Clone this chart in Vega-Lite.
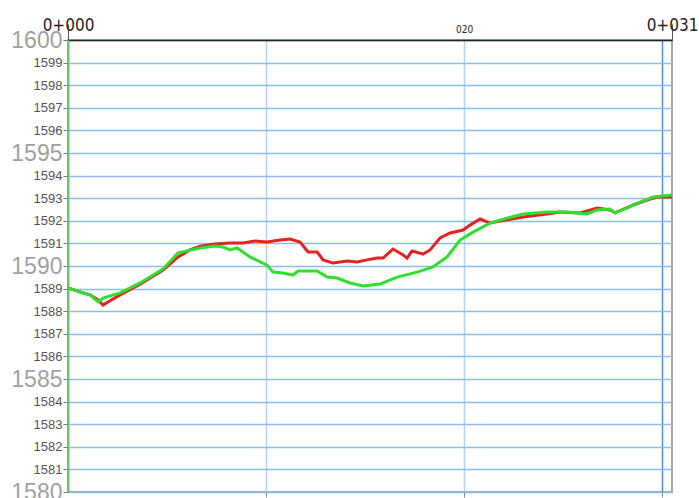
{
  "$schema": "https://vega.github.io/schema/vega-lite/v6.json",
  "width": 604,
  "height": 452,
  "autosize": {"type": "none"},
  "padding": {"left": 68, "top": 40, "right": 27, "bottom": 6},
  "background": "white",
  "config": {"view": {"stroke": "#8a8a8a", "strokeWidth": 1.5}},
  "data": {"values": [
    {"s": "red", "x": 0, "y": 1589.03},
    {"s": "red", "x": 0.61, "y": 1588.85},
    {"s": "red", "x": 1.11, "y": 1588.72},
    {"s": "red", "x": 1.52, "y": 1588.5},
    {"s": "red", "x": 1.77, "y": 1588.27},
    {"s": "red", "x": 2.02, "y": 1588.41},
    {"s": "red", "x": 2.63, "y": 1588.72},
    {"s": "red", "x": 3.64, "y": 1589.2},
    {"s": "red", "x": 4.8, "y": 1589.82},
    {"s": "red", "x": 5.56, "y": 1590.4},
    {"s": "red", "x": 6.16, "y": 1590.71},
    {"s": "red", "x": 6.67, "y": 1590.88},
    {"s": "red", "x": 7.42, "y": 1590.97},
    {"s": "red", "x": 8.18, "y": 1591.02},
    {"s": "red", "x": 8.84, "y": 1591.02},
    {"s": "red", "x": 9.44, "y": 1591.11},
    {"s": "red", "x": 10.05, "y": 1591.06},
    {"s": "red", "x": 10.71, "y": 1591.15},
    {"s": "red", "x": 11.21, "y": 1591.19},
    {"s": "red", "x": 11.72, "y": 1591.06},
    {"s": "red", "x": 12.12, "y": 1590.62},
    {"s": "red", "x": 12.58, "y": 1590.62},
    {"s": "red", "x": 12.88, "y": 1590.27},
    {"s": "red", "x": 13.38, "y": 1590.13},
    {"s": "red", "x": 14.09, "y": 1590.22},
    {"s": "red", "x": 14.6, "y": 1590.18},
    {"s": "red", "x": 15.1, "y": 1590.27},
    {"s": "red", "x": 15.61, "y": 1590.35},
    {"s": "red", "x": 15.91, "y": 1590.35},
    {"s": "red", "x": 16.41, "y": 1590.75},
    {"s": "red", "x": 16.92, "y": 1590.49},
    {"s": "red", "x": 17.12, "y": 1590.35},
    {"s": "red", "x": 17.37, "y": 1590.66},
    {"s": "red", "x": 17.93, "y": 1590.53},
    {"s": "red", "x": 18.28, "y": 1590.71},
    {"s": "red", "x": 18.79, "y": 1591.24},
    {"s": "red", "x": 19.29, "y": 1591.46},
    {"s": "red", "x": 19.95, "y": 1591.59},
    {"s": "red", "x": 20.3, "y": 1591.81},
    {"s": "red", "x": 20.81, "y": 1592.08},
    {"s": "red", "x": 21.31, "y": 1591.9},
    {"s": "red", "x": 22.17, "y": 1592.04},
    {"s": "red", "x": 22.98, "y": 1592.17},
    {"s": "red", "x": 24.19, "y": 1592.3},
    {"s": "red", "x": 24.85, "y": 1592.39},
    {"s": "red", "x": 25.86, "y": 1592.35},
    {"s": "red", "x": 26.72, "y": 1592.57},
    {"s": "red", "x": 27.37, "y": 1592.48},
    {"s": "red", "x": 27.63, "y": 1592.35},
    {"s": "red", "x": 28.54, "y": 1592.7},
    {"s": "red", "x": 29.24, "y": 1592.92},
    {"s": "red", "x": 29.75, "y": 1593.05},
    {"s": "red", "x": 30.5, "y": 1593.05},
    {"s": "green", "x": 0, "y": 1589.03},
    {"s": "green", "x": 0.61, "y": 1588.85},
    {"s": "green", "x": 1.11, "y": 1588.72},
    {"s": "green", "x": 1.52, "y": 1588.41},
    {"s": "green", "x": 1.77, "y": 1588.58},
    {"s": "green", "x": 2.63, "y": 1588.81},
    {"s": "green", "x": 3.64, "y": 1589.25},
    {"s": "green", "x": 4.8, "y": 1589.87},
    {"s": "green", "x": 5.56, "y": 1590.58},
    {"s": "green", "x": 6.67, "y": 1590.8},
    {"s": "green", "x": 7.42, "y": 1590.88},
    {"s": "green", "x": 7.83, "y": 1590.84},
    {"s": "green", "x": 8.18, "y": 1590.71},
    {"s": "green", "x": 8.54, "y": 1590.8},
    {"s": "green", "x": 9.19, "y": 1590.4},
    {"s": "green", "x": 10.05, "y": 1590.04},
    {"s": "green", "x": 10.35, "y": 1589.73},
    {"s": "green", "x": 10.86, "y": 1589.69},
    {"s": "green", "x": 11.36, "y": 1589.6},
    {"s": "green", "x": 11.62, "y": 1589.78},
    {"s": "green", "x": 12.58, "y": 1589.78},
    {"s": "green", "x": 13.08, "y": 1589.51},
    {"s": "green", "x": 13.59, "y": 1589.47},
    {"s": "green", "x": 14.24, "y": 1589.25},
    {"s": "green", "x": 14.9, "y": 1589.12},
    {"s": "green", "x": 15.76, "y": 1589.2},
    {"s": "green", "x": 16.62, "y": 1589.51},
    {"s": "green", "x": 17.63, "y": 1589.73},
    {"s": "green", "x": 18.43, "y": 1589.96},
    {"s": "green", "x": 19.14, "y": 1590.4},
    {"s": "green", "x": 19.8, "y": 1591.15},
    {"s": "green", "x": 20.45, "y": 1591.5},
    {"s": "green", "x": 21.31, "y": 1591.9},
    {"s": "green", "x": 22.17, "y": 1592.12},
    {"s": "green", "x": 22.98, "y": 1592.3},
    {"s": "green", "x": 24.19, "y": 1592.39},
    {"s": "green", "x": 25.2, "y": 1592.39},
    {"s": "green", "x": 26.21, "y": 1592.3},
    {"s": "green", "x": 26.72, "y": 1592.48},
    {"s": "green", "x": 27.37, "y": 1592.52},
    {"s": "green", "x": 27.63, "y": 1592.35},
    {"s": "green", "x": 28.23, "y": 1592.57},
    {"s": "green", "x": 28.89, "y": 1592.83},
    {"s": "green", "x": 29.55, "y": 1593.05},
    {"s": "green", "x": 30.5, "y": 1593.14}
  ]},
  "resolve": {"axis": {"x": "independent", "y": "independent"}},
  "layer": [
    {
      "mark": {"type": "line", "opacity": 0},
      "encoding": {
        "x": {"field": "x", "type": "quantitative", "scale": {"domain": [0, 30.5], "nice": false, "zero": false},
          "axis": {"orient": "bottom", "values": [10, 20, 30], "labels": false, "title": null,
            "domain": false, "ticks": true, "tickSize": 5, "tickColor": "#888",
            "grid": true, "gridWidth": 1.5,
            "gridColor": {"condition": {"test": "datum.value === 30", "value": "#4d8fd0"}, "value": "#b0d4f2"}}},
        "y": {"field": "y", "type": "quantitative", "scale": {"domain": [1580, 1600], "nice": false, "zero": false}, "axis": null},
        "detail": {"field": "s"}
      }
    },
    {
      "mark": {"type": "line", "strokeWidth": 3},
      "encoding": {
        "x": {"field": "x", "type": "quantitative", "scale": {"domain": [0, 30.5], "nice": false, "zero": false},
          "axis": {"orient": "top", "values": [0, 20, 30.5], "title": null, "grid": false,
            "domain": true, "domainColor": "#222", "domainWidth": 1.5,
            "labelExpr": "datum.value === 0 ? '0+000' : (datum.value === 20 ? '020' : '0+031')",
            "labelFont": "DejaVu Sans Condensed",
            "labelFontSize": {"condition": {"test": "datum.value === 20", "value": 10}, "value": 17},
            "labelColor": "#222",
            "tickSize": 16, "tickWidth": 1,
            "tickColor": {"condition": {"test": "datum.value === 20", "value": "transparent"}, "value": "#555"},
            "labelPadding": -10, "labelOverlap": false, "labelBound": false, "labelFlush": false}},
        "y": {"field": "y", "type": "quantitative", "scale": {"domain": [1580, 1600], "nice": false, "zero": false},
          "axis": {"orient": "left", "title": null, "format": "d",
            "values": [1580,1581,1582,1583,1584,1585,1586,1587,1588,1589,1590,1591,1592,1593,1594,1595,1596,1597,1598,1599,1600],
            "grid": true, "gridColor": "#8cbde8", "gridWidth": 1.5,
            "domain": true, "domainColor": "#6cc06c", "domainWidth": 2,
            "ticks": true, "tickSize": 5, "tickColor": "#777",
            "labelFont": "Liberation Sans",
            "labelFontSize": {"condition": {"test": "datum.value % 5 === 0", "value": 23}, "value": 13},
            "labelColor": {"condition": {"test": "datum.value % 5 === 0", "value": "#a0a0a0"}, "value": "#555"},
            "labelPadding": 1, "labelOverlap": false, "labelBound": false, "labelFlush": false}},
        "color": {"field": "s", "type": "nominal", "scale": {"domain": ["red", "green"], "range": ["#e52222", "#2ee02e"]}, "legend": null}
      }
    }
  ]
}
